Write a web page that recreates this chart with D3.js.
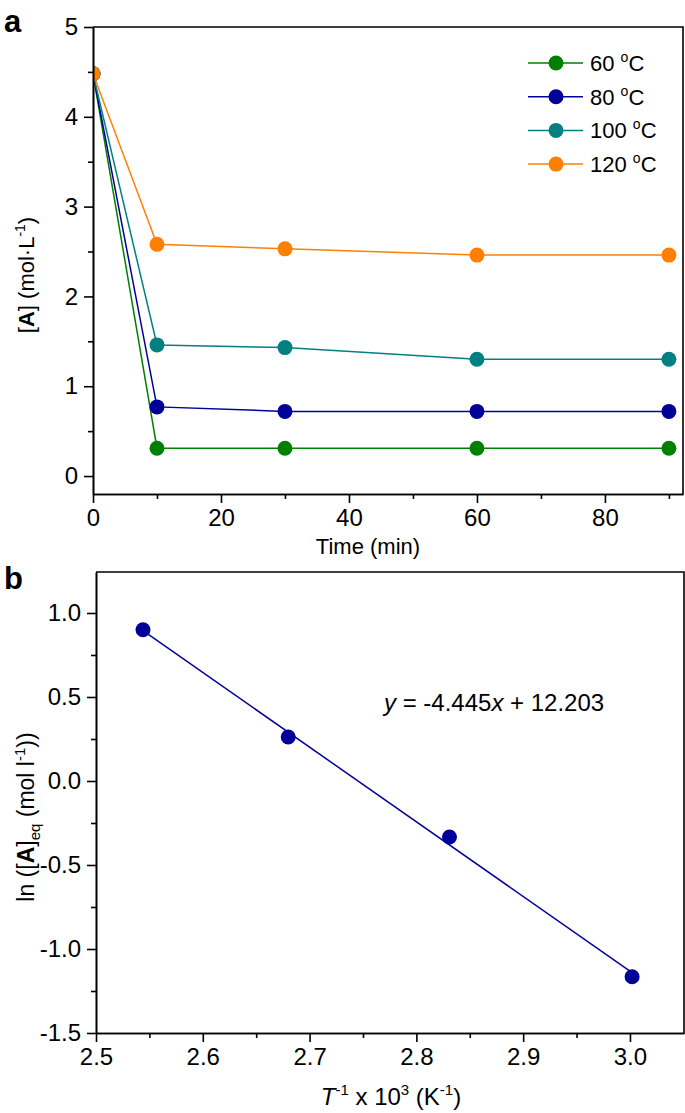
<!DOCTYPE html>
<html>
<head>
<meta charset="utf-8">
<script src="https://d3js.org/d3.v7.min.js"></script>
<style>
  body { margin: 0; background: #fff; }
  text { font-family: "Liberation Sans", Arial, sans-serif; fill: #000; }
</style>
</head>
<body>
<div id="chart"></div>
<script>
// panel a data
const times = [0, 10, 30, 60, 90]
const temps = ['60', '80', '100', '120']
const conc60 = [4.48, 0.31, 0.31, 0.31, 0.31]
const conc80 = [4.48, 0.77, 0.72, 0.72, 0.72]
const conc100 = [4.48, 1.46, 1.43, 1.30, 1.30]
const conc120 = [4.48, 2.58, 2.53, 2.46, 2.46]
const seriesColors = ['#008000', '#000099', '#008080', '#ff8000']

// panel b data
const invT = [2.544, 2.680, 2.831, 3.002]
const lnA = [0.90, 0.262, -0.333, -1.165]
const fitSlope = -4.445
const fitIntercept = 12.203

const W = 685, H = 1113

var svg = d3.select("#chart")
    .append("svg")
    .attr("width", W)
    .attr("height", H)

// draws axis with major and minor ticks
function drawAxes(g, x, y, xMajor, xMinor, yMajor, yMinor, fmtX, fmtY) {
    const [x0, x1] = x.range()
    const [y0, y1] = y.range()

    g.append("g").attr("transform", `translate(0,${y0})`)
        .call(d3.axisBottom(x).tickValues(xMinor).tickSize(5).tickSizeOuter(0).tickFormat(""))
    g.append("g").attr("transform", `translate(0,${y0})`)
        .call(d3.axisBottom(x).tickValues(xMajor).tickSize(9).tickSizeOuter(0).tickPadding(6).tickFormat(fmtX))
    g.append("g").attr("transform", `translate(${x0},0)`)
        .call(d3.axisLeft(y).tickValues(yMinor).tickSize(5).tickSizeOuter(0).tickFormat(""))
    g.append("g").attr("transform", `translate(${x0},0)`)
        .call(d3.axisLeft(y).tickValues(yMajor).tickSize(9).tickSizeOuter(0).tickPadding(6).tickFormat(fmtY))

    g.selectAll(".tick line, .domain").attr("stroke", "#000").attr("stroke-width", 1.6)
    g.selectAll(".tick text").style("font-size", "24px").attr("fill", "#000")

    // top and right frame
    g.append("path")
        .attr("d", `M${x0},${y1}H${x1}V${y0}`)
        .attr("fill", "none").attr("stroke", "#000").attr("stroke-width", 1.6)
}

// ---------- panel a ----------
const xa = d3.scaleLinear().domain([0, 92.2]).range([93, 683])
const ya = d3.scaleLinear().domain([-0.2, 5]).range([494, 27])

var ga = svg.append("g")

ga.append("clipPath").attr("id", "clipA")
    .append("rect").attr("x", 93).attr("y", 27).attr("width", 590).attr("height", 467)

const seriesA = [conc60, conc80, conc100, conc120]
var plotA = ga.append("g").attr("clip-path", "url(#clipA)")
seriesA.forEach((vals, i) => {
    const pts = times.map((t, j) => [t, vals[j]])
    plotA.append("path")
        .datum(pts)
        .attr("fill", "none")
        .attr("stroke", seriesColors[i])
        .attr("stroke-width", 1.5)
        .attr("d", d3.line().x(d => xa(d[0])).y(d => ya(d[1])))
})
seriesA.forEach((vals, i) => {
    plotA.selectAll(null)
        .data(times.map((t, j) => [t, vals[j]]))
        .enter()
        .append("circle")
        .attr("cx", d => xa(d[0]))
        .attr("cy", d => ya(d[1]))
        .attr("r", 7.5)
        .attr("fill", seriesColors[i])
})

drawAxes(ga, xa, ya, [0, 20, 40, 60, 80], [10, 30, 50, 70, 90],
    [0, 1, 2, 3, 4, 5], [0.5, 1.5, 2.5, 3.5, 4.5], d => d, d => d)

// legend
var legend = ga.append("g")
temps.forEach((t, i) => {
    const ly = 63 + i * 33.7
    legend.append("line").attr("x1", 528).attr("x2", 583).attr("y1", ly).attr("y2", ly)
        .attr("stroke", seriesColors[i]).attr("stroke-width", 1.5)
    legend.append("circle").attr("cx", 556).attr("cy", ly).attr("r", 7.5).attr("fill", seriesColors[i])
    var lt = legend.append("text").attr("x", 590).attr("y", ly + 8).style("font-size", "22px")
    lt.append("tspan").text(t + " ")
    lt.append("tspan").attr("dy", -9).style("font-size", "14px").text("o")
    lt.append("tspan").attr("dy", 9).text("C")
})

// axis labels
ga.append("text").attr("x", 368).attr("y", 554).attr("text-anchor", "middle")
    .style("font-size", "22px").text("Time (min)")

var yla = ga.append("text")
    .attr("transform", "translate(34,275) rotate(-90)")
    .attr("text-anchor", "middle").style("font-size", "22px")
yla.append("tspan").text("[")
yla.append("tspan").style("font-weight", "bold").text("A")
yla.append("tspan").text("] (mol·L")
yla.append("tspan").attr("dy", -9).style("font-size", "14px").text("-1")
yla.append("tspan").attr("dy", 9).text(")")

svg.append("text").attr("x", 4).attr("y", 32).style("font-size", "31px")
    .style("font-weight", "bold").text("a")

// ---------- panel b ----------
const xb = d3.scaleLinear().domain([2.5, 3.0506]).range([96, 684])
const yb = d3.scaleLinear().domain([-1.5, 1.244]).range([1033, 572])

var gb = svg.append("g")

// fitted line
const fitX = [invT[0], invT[invT.length - 1]]
gb.append("line")
    .attr("x1", xb(fitX[0])).attr("y1", yb(fitSlope * fitX[0] + fitIntercept))
    .attr("x2", xb(fitX[1])).attr("y2", yb(fitSlope * fitX[1] + fitIntercept))
    .attr("stroke", "#000099").attr("stroke-width", 1.5)

gb.selectAll(null)
    .data(invT.map((v, i) => [v, lnA[i]]))
    .enter()
    .append("circle")
    .attr("cx", d => xb(d[0]))
    .attr("cy", d => yb(d[1]))
    .attr("r", 7.5)
    .attr("fill", "#000099")

drawAxes(gb, xb, yb, [2.5, 2.6, 2.7, 2.8, 2.9, 3.0], [2.55, 2.65, 2.75, 2.85, 2.95],
    [-1.5, -1.0, -0.5, 0, 0.5, 1.0], [-1.25, -0.75, -0.25, 0.25, 0.75],
    d => d.toFixed(1), d => d.toFixed(1))

// equation
var eq = gb.append("text").attr("x", 384).attr("y", 711).style("font-size", "24px")
eq.append("tspan").style("font-style", "italic").text("y")
eq.append("tspan").text(" = -4.445")
eq.append("tspan").style("font-style", "italic").text("x")
eq.append("tspan").text(" + 12.203")

// axis labels
var xlb = gb.append("text").attr("x", 391).attr("y", 1105).attr("text-anchor", "middle")
    .style("font-size", "24px")
xlb.append("tspan").style("font-style", "italic").text("T")
xlb.append("tspan").attr("dy", -10).style("font-size", "15px").text("-1")
xlb.append("tspan").attr("dy", 10).text(" x 10")
xlb.append("tspan").attr("dy", -10).style("font-size", "15px").text("3")
xlb.append("tspan").attr("dy", 10).text(" (K")
xlb.append("tspan").attr("dy", -10).style("font-size", "15px").text("-1")
xlb.append("tspan").attr("dy", 10).text(")")

var ylb = gb.append("text")
    .attr("transform", "translate(34,817) rotate(-90)")
    .attr("text-anchor", "middle").style("font-size", "23px")
ylb.append("tspan").text("ln ([")
ylb.append("tspan").style("font-weight", "bold").text("A")
ylb.append("tspan").text("]")
ylb.append("tspan").attr("dy", 6).style("font-size", "15px").text("eq")
ylb.append("tspan").attr("dy", -6).text(" (mol l")
ylb.append("tspan").attr("dy", -9).style("font-size", "15px").text("-1")
ylb.append("tspan").attr("dy", 9).text("))")

svg.append("text").attr("x", 4).attr("y", 589).style("font-size", "31px")
    .style("font-weight", "bold").text("b")
</script>
</body>
</html>
